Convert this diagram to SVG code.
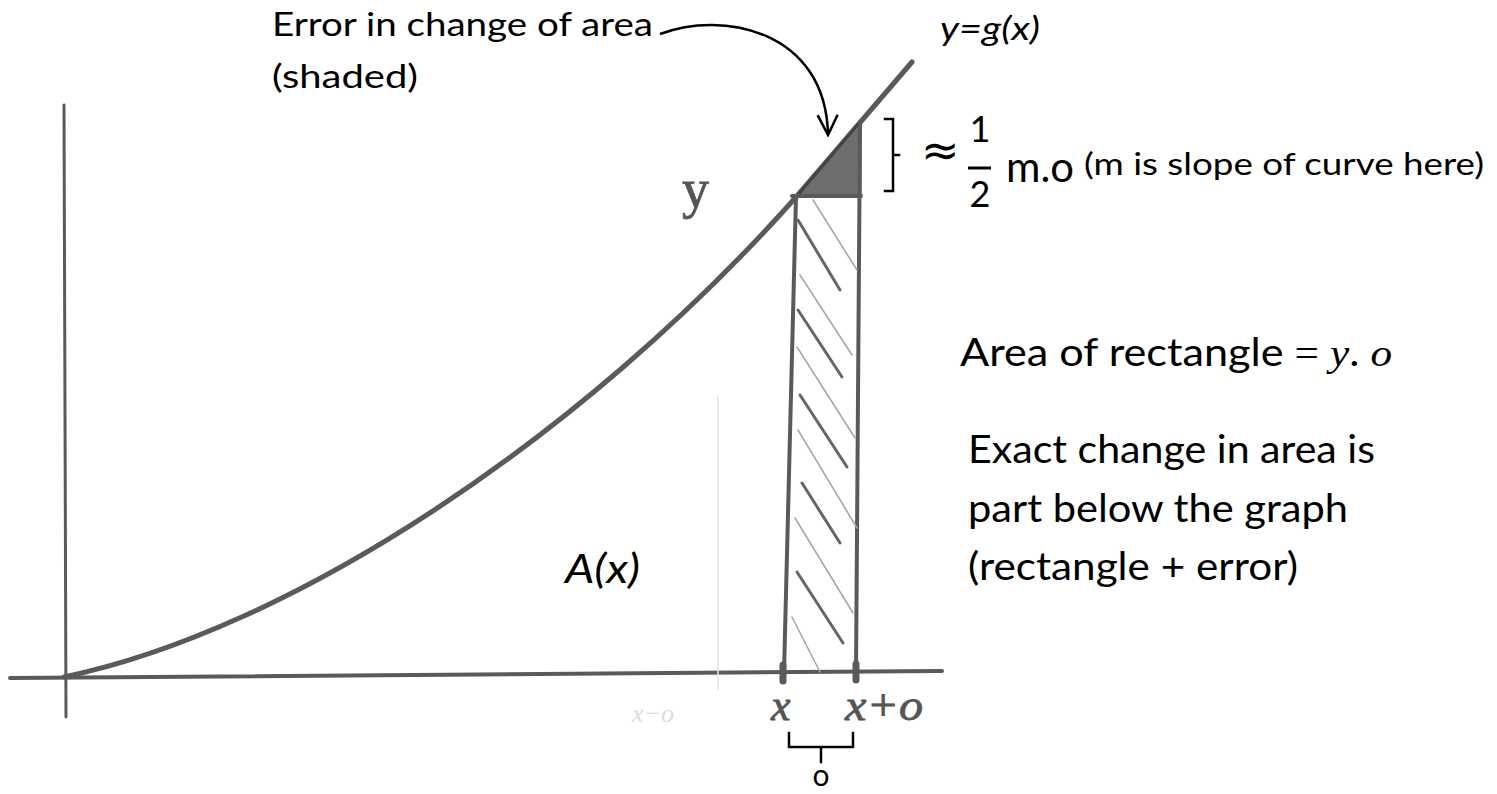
<svg xmlns="http://www.w3.org/2000/svg" width="1497" height="794" viewBox="0 0 1497 794">
<defs>
<style>
.t{font-family:"Lato","Liberation Sans",sans-serif;fill:#000}
.i{font-style:italic}
.m{font-family:"Liberation Serif",serif;font-style:italic;fill:#000}
.pen{fill:none;stroke:#5a5a5a;stroke-linecap:round;stroke-linejoin:round}
.hand{font-family:"Liberation Serif",serif;font-style:italic;fill:#555;stroke:#555;stroke-width:0.8}
.dk{fill:none;stroke:#666;stroke-width:3;stroke-linecap:round}
.lt{fill:none;stroke:#a8a8a8;stroke-width:1.6;stroke-linecap:round}
.ink{fill:none;stroke:#000;stroke-width:2.5;stroke-linecap:square;stroke-linejoin:miter}
</style>
<marker id="ah" viewBox="0 0 24 24" refX="22" refY="12" markerWidth="24" markerHeight="24" markerUnits="userSpaceOnUse" orient="auto">
<path d="M2,2 L22,12 L2,22" fill="none" stroke="#000" stroke-width="2.5"/>
</marker>
</defs>
<rect width="1497" height="794" fill="#fff"/>

<g id="axes">
<line class="pen" x1="64" y1="105" x2="66" y2="717" stroke-width="3"/>
<line class="pen" x1="10" y1="678" x2="942" y2="671" stroke-width="4"/>
<line x1="718" y1="395" x2="718" y2="690" stroke="#e4e4e4" stroke-width="1.5"/>
<text x="632" y="722" font-size="26" style="font-family:'Liberation Serif',serif;font-style:italic;fill:#dcdcdc">x−o</text>
</g>

<g id="curve">
<path class="pen" stroke-width="5" d="M64,677 C290,630 580,440 797,196 L912,62"/>
</g>

<g id="error-triangle">
<path d="M797,196 L860,122 L860,196 Z" fill="#6e6e6e" stroke="#444" stroke-width="3" stroke-linejoin="round"/>
</g>

<g id="rectangle">
<line class="pen" stroke-width="4" x1="796" y1="196" x2="784" y2="673"/>
<line class="pen" stroke-width="4" x1="860" y1="122" x2="856" y2="673"/>
<line class="pen" stroke-width="4" x1="792" y1="196" x2="861" y2="196"/>
<line class="pen" stroke-width="7" x1="783" y1="665" x2="783" y2="681" stroke-linecap="butt"/>
<line class="pen" stroke-width="7" x1="856" y1="664" x2="856" y2="680" stroke-linecap="butt"/>
<g id="hatch">
<line class="dk" x1="798" y1="220" x2="840" y2="290"/>
<line class="dk" x1="798" y1="310" x2="842" y2="377"/>
<line class="dk" x1="800" y1="395" x2="847" y2="467"/>
<line class="dk" x1="802" y1="483" x2="840" y2="543"/>
<line class="dk" x1="797" y1="572" x2="843" y2="643"/>
<line class="lt" x1="813" y1="200" x2="857" y2="270"/>
<line class="lt" x1="800" y1="275" x2="852" y2="355"/>
<line class="lt" x1="797" y1="347" x2="855" y2="438"/>
<line class="lt" x1="798" y1="430" x2="857" y2="528"/>
<line class="lt" x1="795" y1="518" x2="853" y2="613"/>
<line class="lt" x1="792" y1="617" x2="820" y2="672"/>
</g>
</g>

<g id="labels-graph">
<text class="hand" x="682" y="207" font-size="54" style="font-style:normal">y</text>
<text class="t i" x="565" y="583" font-size="40" textLength="75" lengthAdjust="spacingAndGlyphs">A(x)</text>
<text class="hand" x="771" y="720" font-size="44">x</text>
<text class="hand" x="845" y="720" font-size="44" textLength="78" lengthAdjust="spacingAndGlyphs">x+o</text>
<path class="ink" d="M789,733 L789,747 L853,747 L853,733 M821,747 L821,762"/>
<text class="t" x="821" y="786" font-size="30" text-anchor="middle">o</text>
</g>

<g id="error-label">
<text class="t" x="272" y="36" font-size="33" textLength="381" lengthAdjust="spacingAndGlyphs">Error in change of area</text>
<text class="t" x="272" y="88" font-size="33" textLength="146" lengthAdjust="spacingAndGlyphs">(shaded)</text>
<text class="t i" x="940" y="40" font-size="33" textLength="100" lengthAdjust="spacingAndGlyphs">y=g(x)</text>
</g>

<g id="connectors">
<path d="M660,34 C722,10 826,30 828,135" fill="none" stroke="#000" stroke-width="2.5" marker-end="url(#ah)"/>
<path class="ink" d="M885,119 L893,119 L893,191 L885,191 M893,155 L899,155"/>
</g>

<g id="approx">
<text x="921" y="166" font-size="46" style="font-family:'DejaVu Sans',sans-serif">≈</text>
<text class="t" x="980" y="142" font-size="36" text-anchor="middle">1</text>
<line x1="968" y1="168" x2="991" y2="168" stroke="#000" stroke-width="3"/>
<text class="t" x="980" y="207" font-size="36" text-anchor="middle">2</text>
<text class="t" x="1006" y="182" font-size="42" textLength="68" lengthAdjust="spacingAndGlyphs">m.o</text>
<text class="t" x="1084" y="175" font-size="30" textLength="400" lengthAdjust="spacingAndGlyphs">(m is slope of curve here)</text>
</g>

<g id="notes">
<text class="t" x="960" y="366" font-size="38" textLength="432" lengthAdjust="spacingAndGlyphs">Area of rectangle <tspan class="m" style="font-style:normal">=</tspan> <tspan class="m">y</tspan>. <tspan class="m">o</tspan></text>
<text class="t" x="968" y="463" font-size="38" textLength="407" lengthAdjust="spacingAndGlyphs">Exact change in area is</text>
<text class="t" x="968" y="522" font-size="38" textLength="380" lengthAdjust="spacingAndGlyphs">part below the graph</text>
<text class="t" x="968" y="580" font-size="38" textLength="330" lengthAdjust="spacingAndGlyphs">(rectangle + error)</text>
</g>
</svg>
